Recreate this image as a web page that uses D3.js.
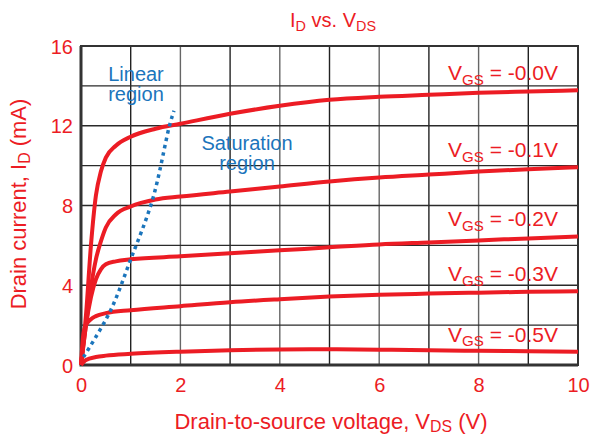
<!DOCTYPE html>
<html><head><meta charset="utf-8">
<script src="https://cdn.jsdelivr.net/npm/d3@7"></script>
<style>
html,body{margin:0;padding:0;background:#fff;}
svg{display:block;font-family:"Liberation Sans",Arial,Helvetica,sans-serif;}
</style></head>
<body><svg id="c" width="592" height="436"></svg>
<script>
// ---- data ----
const vgsLabels = ["-0.0V", "-0.1V", "-0.2V", "-0.3V", "-0.5V"];
const curve00 = [[0,0],[0.1,2.5],[0.2,6.0],[0.3,8.5],[0.4,9.7],[0.5,10.4],[0.7,11.0],[1,11.45],[1.5,11.85],[2,12.1],[3,12.6],[4,13.0],[5,13.3],[6,13.45],[7,13.55],[8,13.65],[9,13.72],[10,13.78]];
const curve01 = [[0,0],[0.1,2.0],[0.2,3.9],[0.3,5.3],[0.4,6.2],[0.5,6.9],[0.7,7.55],[1,7.95],[1.5,8.3],[2,8.45],[3,8.7],[4,8.95],[5,9.2],[6,9.4],[7,9.55],[8,9.7],[9,9.82],[10,9.92]];
const curve02 = [[0,0],[0.1,2.0],[0.2,3.4],[0.3,4.3],[0.4,4.8],[0.5,5.05],[0.7,5.2],[1,5.3],[2,5.45],[3,5.6],[4,5.75],[5,5.9],[6,6.05],[7,6.15],[8,6.25],[9,6.35],[10,6.45]];
const curve03 = [[0,0],[0.05,1.6],[0.1,2.0],[0.2,2.3],[0.3,2.45],[0.5,2.6],[1,2.75],[2,2.95],[3,3.15],[4,3.3],[5,3.43],[6,3.52],[7,3.58],[8,3.63],[9,3.67],[10,3.7]];
const curve05 = [[0,0],[0.1,0.25],[0.3,0.4],[0.5,0.47],[1,0.56],[2,0.67],[3,0.74],[4,0.78],[5,0.79],[6,0.77],[7,0.74],[8,0.71],[9,0.69],[10,0.67]];
const boundary = [[0.05,0.4],[0.58,2.66],[1.0,5.3],[1.44,8.3],[1.78,12.0],[1.87,12.75]];
const xTicks = [0,2,4,6,8,10];
const yTicks = [0,4,8,12,16];
const xGrid = [1,2,3,4,5,6,7,8,9];
const yGrid = [2,4,6,8,10,12,14];

const curves = [curve00, curve01, curve02, curve03, curve05];
const RED = "#ec1c24", BLUE = "#1b75bc";

const svg = d3.select("#c");
const L = 81, R = 578, T = 46, B = 365;
const x = d3.scaleLinear().domain([0,10]).range([L,R]);
const y = d3.scaleLinear().domain([0,16]).range([B,T]);

// grid
svg.append("g").selectAll("line").data(xGrid).join("line")
  .attr("x1", d=>x(d)).attr("x2", d=>x(d)).attr("y1", T).attr("y2", B)
  .attr("stroke", (d,i)=> i%2 ? "#666" : "#222").attr("stroke-width", 1.4);
svg.append("g").selectAll("line").data(yGrid).join("line")
  .attr("y1", d=>y(d)).attr("y2", d=>y(d)).attr("x1", L).attr("x2", R)
  .attr("stroke", "#2a2a2a").attr("stroke-width", 1.4);

// frame
svg.append("rect").attr("x", L).attr("y", T).attr("width", R-L).attr("height", B-T)
  .attr("fill", "none").attr("stroke", "#333").attr("stroke-width", 2);
svg.append("path").attr("d", `M${L},${T}V${B}H${R}`).attr("fill","none")
  .attr("stroke", "#333").attr("stroke-width", 3);

// axes tick labels via d3 axes
const xa = svg.append("g").attr("transform", `translate(0,${B})`)
  .call(d3.axisBottom(x).tickValues(xTicks).tickSize(0).tickPadding(13).tickFormat(d3.format("d")));
xa.select(".domain").remove();
xa.selectAll("text").attr("fill", RED).attr("font-size", 20).attr("font-family", "inherit").attr("dy", "0.71em");
const ya = svg.append("g").attr("transform", `translate(${L},0)`)
  .call(d3.axisLeft(y).tickValues(yTicks).tickSize(0).tickPadding(8).tickFormat(d3.format("d")));
ya.select(".domain").remove();
ya.selectAll("text").attr("fill", RED).attr("font-size", 20).attr("font-family", "inherit").attr("dy", "0.36em");

// curves
const line = d3.line().x(d=>x(d[0])).y(d=>y(d[1])).curve(d3.curveMonotoneX);
svg.append("g").selectAll("path").data(curves).join("path")
  .attr("d", line).attr("fill", "none").attr("stroke", RED).attr("stroke-width", 4)
  .attr("stroke-linejoin", "round");

// boundary dotted line
const bline = d3.line().x(d=>x(d[0])).y(d=>y(d[1])).curve(d3.curveCatmullRom);
svg.append("path").attr("d", bline(boundary)).attr("fill","none")
  .attr("stroke", BLUE).attr("stroke-width", 3.5).attr("stroke-dasharray", "3.5,4");

// curve labels
function sub(t, main, s, sz, sh){
  t.append("tspan").text(main);
  t.append("tspan").text(s).attr("font-size", sz*0.72).attr("dy", sz*sh);
}
curves.forEach((c,i)=>{
  const last = c[c.length-1];
  const t = svg.append("text").attr("x", x(10)-20).attr("y", y(last[1])-10)
    .attr("text-anchor", "end").attr("fill", RED).attr("font-size", 21);
  sub(t, "V", "GS", 21, 0.22);
  t.append("tspan").text(" = " + vgsLabels[i]).attr("dy", -21*0.22);
});

// title
const tt = svg.append("text").attr("x", 333).attr("y", 27).attr("text-anchor","middle")
  .attr("fill", RED).attr("font-size", 20);
sub(tt, "I", "D", 20, 0.22);
tt.append("tspan").text(" vs. V").attr("dy", -20*0.22);
tt.append("tspan").text("DS").attr("font-size", 20*0.72).attr("dy", 20*0.22);

// region labels
function region(lines, cx, y0){
  const t = svg.append("text").attr("text-anchor","middle").attr("fill", BLUE).attr("font-size", 20);
  lines.forEach((s,i)=> t.append("tspan").attr("x", cx).attr("y", y0 + i*20).text(s));
}
region(["Linear","region"], 136, 81);
region(["Saturation","region"], 247, 150);

// axis titles
const xt = svg.append("text").attr("x", 331).attr("y", 429).attr("text-anchor","middle")
  .attr("fill", RED).attr("font-size", 22);
xt.append("tspan").text("Drain-to-source voltage, V");
xt.append("tspan").text("DS").attr("font-size", 22*0.72).attr("dy", 22*0.13);
xt.append("tspan").text(" (V)").attr("dy", -22*0.13);

const yt = svg.append("text").attr("transform", "translate(26,204) rotate(-90)")
  .attr("text-anchor","middle").attr("fill", RED).attr("font-size", 22);
yt.append("tspan").text("Drain current, I");
yt.append("tspan").text("D").attr("font-size", 22*0.72).attr("dy", 22*0.2);
yt.append("tspan").text(" (mA)").attr("dy", -22*0.2);
</script>
</body></html>
